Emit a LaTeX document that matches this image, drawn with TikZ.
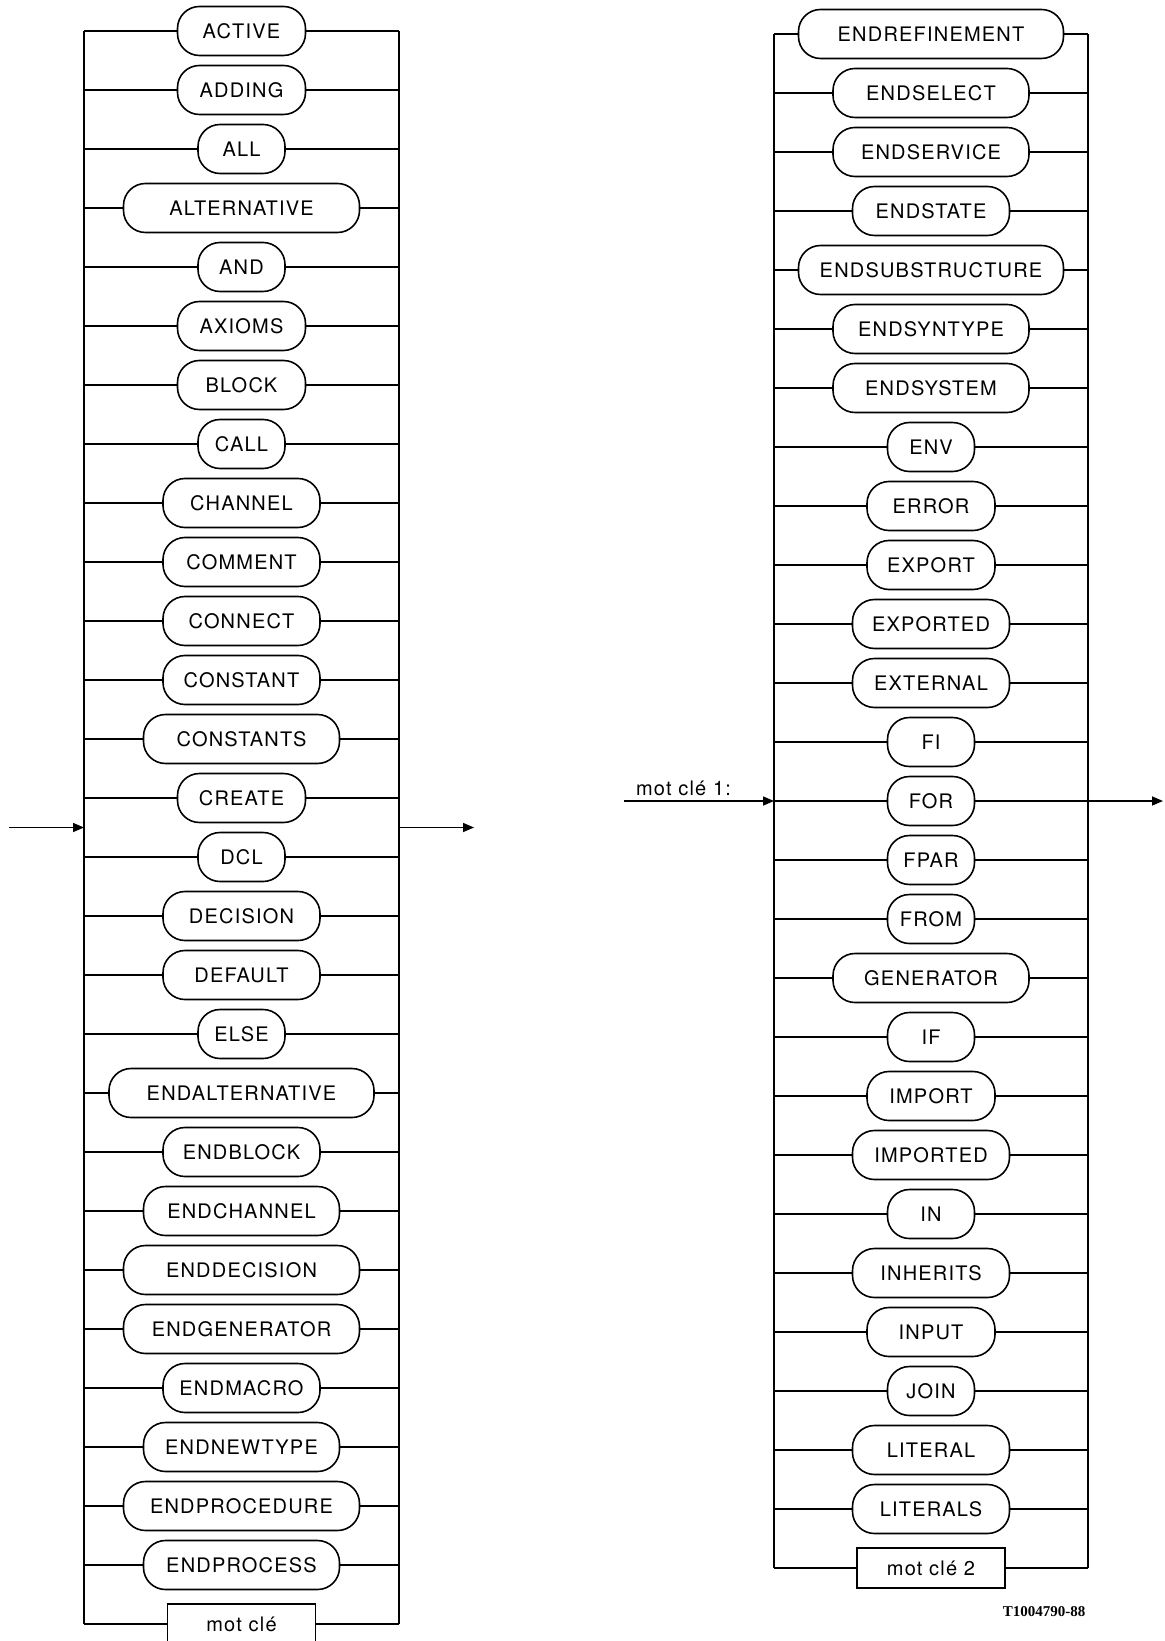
\documentclass[tikz,border=0pt]{standalone}
\usepackage{fontspec}
\usepackage{tikz}
\usetikzlibrary{arrows.meta,positioning}
\newfontfamily\kwfont[LetterSpace=6]{TeX Gyre Heros}
\newfontfamily\tagfont{Liberation Serif}

\begin{document}
\begin{tikzpicture}[
  x=0.5pt, y=0.5pt,
  node distance=29.5pt, on grid,
  kw/.style={draw, rounded corners=11pt, minimum height=24.5pt, inner sep=0pt, outer sep=0pt, line width=0.8pt, font=\kwfont},
  kwxs/.style={kw, minimum width=43.5pt},
  kws/.style={kw, minimum width=64pt},
  kwm/.style={kw, minimum width=78.5pt},
  kwl/.style={kw, minimum width=98pt},
  kwxl/.style={kw, minimum width=118pt},
  kwxxl/.style={kw, minimum width=132.5pt},
  refbox/.style={draw, minimum width=74pt, minimum height=20pt, inner sep=0pt, outer sep=0pt, line width=0.8pt, font=\kwfont},
  rail/.style={line width=0.75pt},
  arr/.style={-{Triangle[length=5.5pt,width=4.5pt]}, line width=0.75pt}
]
\useasboundingbox (0,0) rectangle (1165,-1641);

% left diagram
\node[kws] (l1) at (241.5,-31) {ACTIVE};
\node[kws, below=of l1] (l2) {ADDING};
\node[kwxs, below=of l2] (l3) {ALL};
\node[kwxl, below=of l3] (l4) {ALTERNATIVE};
\node[kwxs, below=of l4] (l5) {AND};
\node[kws, below=of l5] (l6) {AXIOMS};
\node[kws, below=of l6] (l7) {BLOCK};
\node[kwxs, below=of l7] (l8) {CALL};
\node[kwm, below=of l8] (l9) {CHANNEL};
\node[kwm, below=of l9] (l10) {COMMENT};
\node[kwm, below=of l10] (l11) {CONNECT};
\node[kwm, below=of l11] (l12) {CONSTANT};
\node[kwl, below=of l12] (l13) {CONSTANTS};
\node[kws, below=of l13] (l14) {CREATE};
\node[kwxs, below=of l14] (l15) {DCL};
\node[kwm, below=of l15] (l16) {DECISION};
\node[kwm, below=of l16] (l17) {DEFAULT};
\node[kwxs, below=of l17] (l18) {ELSE};
\node[kwxxl, below=of l18] (l19) {ENDALTERNATIVE};
\node[kwm, below=of l19] (l20) {ENDBLOCK};
\node[kwl, below=of l20] (l21) {ENDCHANNEL};
\node[kwxl, below=of l21] (l22) {ENDDECISION};
\node[kwxl, below=of l22] (l23) {ENDGENERATOR};
\node[kwm, below=of l23] (l24) {ENDMACRO};
\node[kwl, below=of l24] (l25) {ENDNEWTYPE};
\node[kwxl, below=of l25] (l26) {ENDPROCEDURE};
\node[kwl, below=of l26] (l27) {ENDPROCESS};
\node[refbox, below=of l27] (l28) {mot clé};

\coordinate (lw) at (84,-31);
\coordinate (le) at (399,-31);
\coordinate (lin) at (9,-827.5);
\coordinate (lout) at (474,-827.5);

\draw[rail] (l1 -| lw) -- (l28 -| lw);
\draw[rail] (l1 -| le) -- (l28 -| le);
\foreach \i in {1,...,28}
  \draw[rail] (l\i -| lw) -- (l\i) -- (l\i -| le);
\draw[arr] (lin) -- (lin -| lw);
\draw[arr] (lin -| le) -- (lout);

% right diagram
\node[kwxxl] (r1) at (931,-34) {ENDREFINEMENT};
\node[kwl, below=of r1] (r2) {ENDSELECT};
\node[kwl, below=of r2] (r3) {ENDSERVICE};
\node[kwm, below=of r3] (r4) {ENDSTATE};
\node[kwxxl, below=of r4] (r5) {ENDSUBSTRUCTURE};
\node[kwl, below=of r5] (r6) {ENDSYNTYPE};
\node[kwl, below=of r6] (r7) {ENDSYSTEM};
\node[kwxs, below=of r7] (r8) {ENV};
\node[kws, below=of r8] (r9) {ERROR};
\node[kws, below=of r9] (r10) {EXPORT};
\node[kwm, below=of r10] (r11) {EXPORTED};
\node[kwm, below=of r11] (r12) {EXTERNAL};
\node[kwxs, below=of r12] (r13) {FI};
\node[kwxs, below=of r13] (r14) {FOR};
\node[kwxs, below=of r14] (r15) {FPAR};
\node[kwxs, below=of r15] (r16) {FROM};
\node[kwl, below=of r16] (r17) {GENERATOR};
\node[kwxs, below=of r17] (r18) {IF};
\node[kws, below=of r18] (r19) {IMPORT};
\node[kwm, below=of r19] (r20) {IMPORTED};
\node[kwxs, below=of r20] (r21) {IN};
\node[kwm, below=of r21] (r22) {INHERITS};
\node[kws, below=of r22] (r23) {INPUT};
\node[kwxs, below=of r23] (r24) {JOIN};
\node[kwm, below=of r24] (r25) {LITERAL};
\node[kwm, below=of r25] (r26) {LITERALS};
\node[refbox, below=of r26] (r27) {mot clé 2};

\coordinate (rw) at (774,-34);
\coordinate (re) at (1088,-34);
\coordinate (rin) at (624,-801);
\coordinate (rout) at (1163,-801);

\draw[rail] (r1 -| rw) -- (r27 -| rw);
\draw[rail] (r1 -| re) -- (r27 -| re);
\foreach \i in {1,...,27}
  \draw[rail] (r\i -| rw) -- (r\i) -- (r\i -| re);
\draw[arr] (rin) -- (r14 -| rw);
\draw[arr] (r14 -| re) -- (rout);
\node[anchor=base west, font=\kwfont] (k1) at (629,-795) {mot clé 1:};

\node[font=\tagfont\bfseries\fontsize{7.5}{9}\selectfont] (tag) at (1044,-1612) {T1004790-88};
\end{tikzpicture}
\end{document}
